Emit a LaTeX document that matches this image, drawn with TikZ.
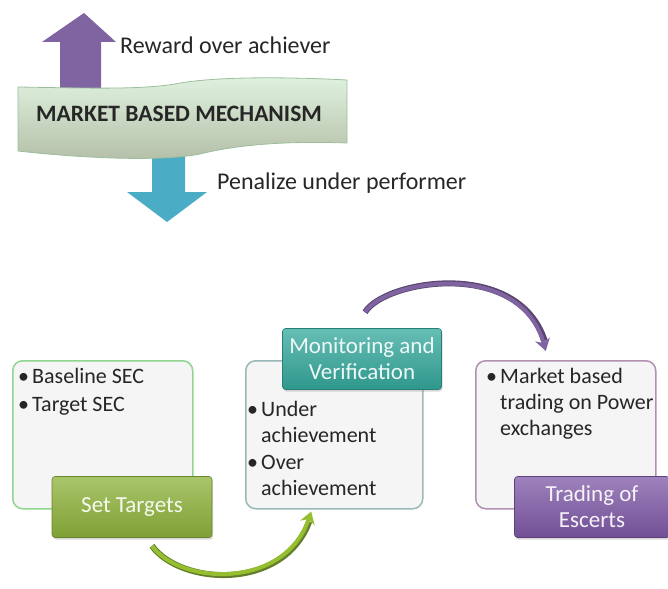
\documentclass[tikz,border=0pt]{standalone}
\usepackage{fontspec}
\setmainfont{Carlito}
\usetikzlibrary{arrows.meta,calc,shadows}
\definecolor{rewardpurple}{HTML}{8064A2}
\definecolor{penaltyblue}{HTML}{4BACC6}
\definecolor{setgreen}{HTML}{8DB23A}
\definecolor{monteal}{HTML}{34A89C}
\definecolor{tradepurple}{HTML}{7E58A6}
\definecolor{boxfill}{HTML}{F5F5F5}
\tikzset{
  infobox/.style={draw=#1,line width=1.5pt,rounded corners=10pt,fill=boxfill,
    minimum height=148pt,anchor=north west},
  button/.style={rounded corners=3pt,top color=#1!75!white,bottom color=#1!90!black,
    draw=#1!75!black,line width=0.6pt,text=white!92!#1,align=center,
    minimum height=61pt,font=\fontsize{23}{26}\selectfont,
    drop shadow={opacity=0.3,shadow xshift=1pt,shadow yshift=-2pt}},
  bullets/.style={anchor=north west,align=left,inner sep=0pt,text=black!85,
    font=\fontsize{22}{26}\selectfont},
  cycle/.style={line width=4pt,draw=#1,-{Stealth[length=12pt,width=15pt]}},
  cycleedge/.style={line width=6pt,draw=#1!70!black},
  label/.style={anchor=west,inner sep=0pt,text=black!85,font=\fontsize{24}{26}\selectfont}
}
\newcommand{\blt}{\makebox[14pt][l]{\textbullet}}
\newcommand{\ind}{\hspace*{14pt}}
\begin{document}
\begin{tikzpicture}[x=1pt,y=-1pt]
\useasboundingbox (0,0) rectangle (668,588);
% reward / penalty arrows behind the banner
\fill[rewardpurple] (84,13) -- (116,42) -- (101,42) -- (101,95) -- (60,95) -- (60,42) -- (42,42) -- cycle;
\fill[penaltyblue] (152,140) -- (185,140) -- (185,192) -- (207,192) -- (167,222) -- (127,192) -- (152,192) -- cycle;
% banner
\draw[draw=black!25!green!30!gray!60,line width=0.8pt,top color=green!8!white!95!black,bottom color=green!25!lime!15!gray!60!white]
  (18,87) .. controls (80,88) and (140,90) .. (175,84) .. controls (215,76) and (290,77) .. (347,80)
  -- (347,143) .. controls (290,141) and (240,144) .. (200,154) .. controls (160,162) and (80,158) .. (18,151) -- cycle;
\node[font=\fontsize{23.5}{26}\selectfont\bfseries,text=black!85] (mbm) at (179,114) {MARKET BASED MECHANISM};
\node[label] (reward) at (120,45) {Reward over achiever};
\node[label] (penal) at (217,183) {Penalize under performer};
% the three steps
\node[infobox=green!45!gray!60,minimum width=180pt] (tgtbox) at (12,360) {};
\node[infobox=teal!45!gray!55,minimum width=177pt] (monbox) at (245,360) {};
\node[infobox=violet!45!gray!60,minimum width=180pt] (trdbox) at (475,360) {};
\node[bullets] (tgttxt) at (18,368) {\blt Baseline SEC\\[2pt]\blt Target SEC};
\node[bullets] (montxt) at (247,401) {\blt Under\\\ind achievement\\[1pt]\blt Over\\\ind achievement};
\node[bullets] (trdtxt) at (486,368) {\blt Market based\\\ind trading on Power\\\ind exchanges};
\node[button=setgreen,minimum width=160pt] (set) at (132,507) {Set Targets};
\node[button=monteal,minimum width=159pt] (mon) at (362,359) {Monitoring and\\Verification};
\node[button=tradepurple,minimum width=155pt] (trd) at (592,507) {Trading of\\Escerts};
% connectors
\coordinate (g0) at ($(set.south)+(20,8)$);
\coordinate (g1) at ($(monbox.south)+(-23,2)$);
\coordinate (g2) at ($(monbox.south)+(-25,12)$);
\coordinate (p0) at ($(mon.north)+(3,-16)$);
\coordinate (p1) at ($(trdbox.north)+(-20,-9)$);
\coordinate (p2) at ($(trdbox.north)+(-21,-19)$);
\draw[cycleedge=setgreen] (g0) .. controls (180,585) and (283,592) .. (g2);
\draw[cycle=setgreen!85!lime] (g0) .. controls (180,585) and (285,590) .. (g1);
\draw[cycleedge=rewardpurple] (p0) .. controls (385,280) and (518,258) .. (p2);
\draw[cycle=rewardpurple] (p0) .. controls (385,280) and (520,258) .. (p1);
\end{tikzpicture}
\end{document}
